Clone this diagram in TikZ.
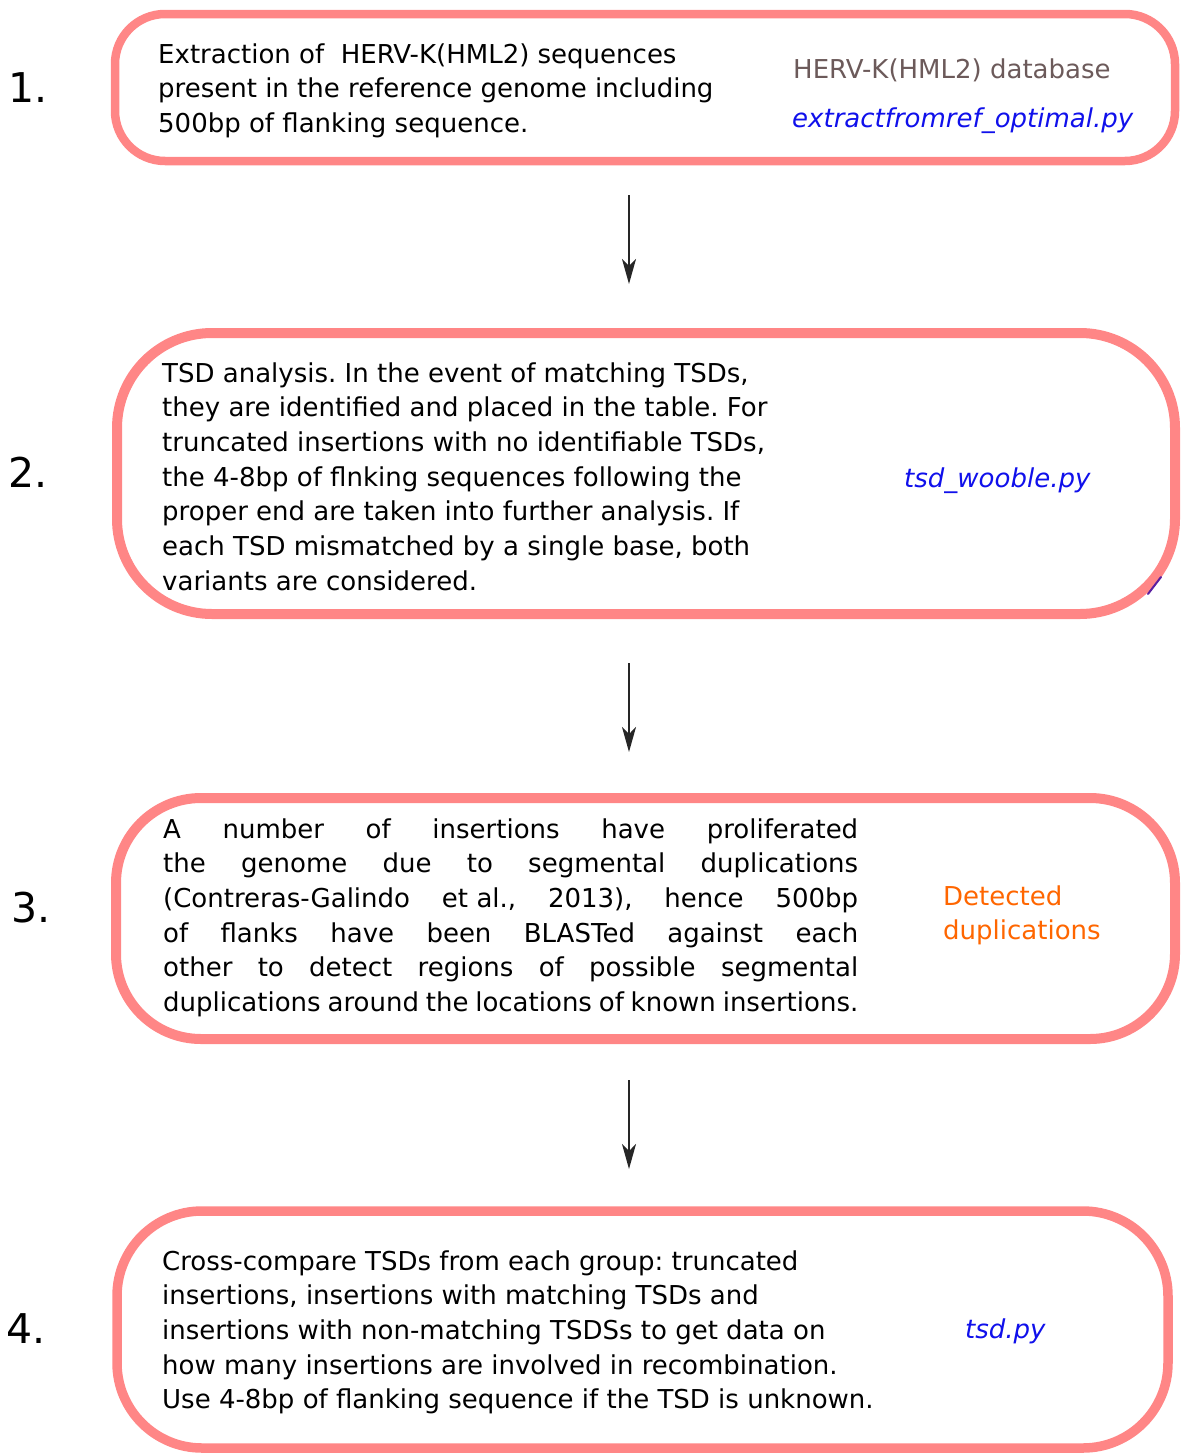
\documentclass[tikz,border=0pt]{standalone}
\usepackage{fontspec}
\setmainfont{DejaVu Sans}
\usetikzlibrary{arrows.meta}
\definecolor{boxpink}{RGB}{255,134,134}
\definecolor{dbgrey}{RGB}{108,90,90}
\definecolor{scriptblue}{RGB}{16,16,235}
\definecolor{dupeorange}{RGB}{255,102,0}
\definecolor{penpurple}{RGB}{90,30,160}
\newcommand{\bodysize}{\fontsize{26}{34.7}\selectfont}
\newlength{\dupwidth}
\setlength{\dupwidth}{695pt}
\newcommand{\jline}[1]{\makebox[\dupwidth][s]{#1}}
\frenchspacing
\begin{document}
\begin{tikzpicture}[x=1pt,y=-1pt,
  stage/.style={draw=boxpink, rectangle, fill=none, inner sep=0pt},
  body/.style={anchor=base west, inner sep=0pt, font=\bodysize},
  side/.style={anchor=base west, inner sep=0pt, font=\bodysize},
  script/.style={side, text=scriptblue, font=\bodysize\itshape},
  stepnum/.style={anchor=base west, inner sep=0pt, font=\fontsize{41}{41}\selectfont},
  flow/.style={draw=black!85, line width=1.6pt, -{Stealth[length=25pt,width=14pt,inset=7pt]}}]
\useasboundingbox (0,0) rectangle (1186,1454);

% stage frames
\node[stage, line width=8.5pt, rounded corners=50pt, minimum width=1060pt, minimum height=147pt] (box1) at (645,87.5) {};
\node[stage, line width=10pt, rounded corners=95pt, minimum width=1058pt, minimum height=281pt] (box2) at (646,473.5) {};
\node[stage, line width=10pt, rounded corners=85pt, minimum width=1059pt, minimum height=241pt] (box3) at (645.5,918.5) {};
\node[stage, line width=9.5pt, rounded corners=85pt, minimum width=1051pt, minimum height=237pt] (box4) at (642.5,1329.5) {};

% step numbers
\node[stepnum] (n1) at (8,102) {1.};
\node[stepnum] (n2) at (8,487) {2.};
\node[stepnum] (n3) at (11,922) {3.};
\node[stepnum] (n4) at (6,1343) {4.};

% stage 1
\node[body] (t1) at (158,63) {\parbox[t]{640pt}{Extraction of\ \ HERV-K(HML2) sequences\\present in the reference genome including\\500bp of flanking sequence.}};
\node[side, text=dbgrey] (db1) at (793,78) {HERV-K(HML2) database};
\node[script] (py1) at (792,127) {extractfromref\_optimal.py};

% stage 2
\node[body] (t2) at (162,382) {\parbox[t]{660pt}{TSD analysis. In the event of matching TSDs,\\they are identified and placed in the table. For\\truncated insertions with no identifiable TSDs,\\the 4-8bp of flnking sequences following the\\proper end are taken into further analysis. If\\each TSD mismatched by a single base, both\\variants are considered.}};
\node[script] (py2) at (904,487) {tsd\_wooble.py};
\draw[penpurple, line width=2pt, line cap=round] (1148,594) -- (1161,577);

% stage 3
\node[body] (t3) at (163,838) {\parbox[t]{\dupwidth}{%
\jline{A number of insertions have proliferated}\\
\jline{the genome due to segmental duplications}\\
\jline{(Contreras-Galindo et\hspace{0.32em}al., 2013), hence 500bp}\\
\jline{of flanks have been BLASTed against each}\\
\jline{other to detect regions of possible segmental}\\
\jline{duplications around the locations of known insertions.}}};
\node[side, text=dupeorange] (dup3) at (943,905) {\parbox[t]{200pt}{Detected\\duplications}};

% stage 4
\node[body] (t4) at (162,1270) {\parbox[t]{780pt}{Cross-compare TSDs from each group: truncated\\insertions, insertions with matching TSDs and\\insertions with non-matching TSDSs to get data on\\how many insertions are involved in recombination.\\Use 4-8bp of flanking sequence if the TSD is unknown.}};
\node[script] (py4) at (965,1338) {tsd.py};

% connectors between stages
\coordinate (a1s) at (629,195);
\coordinate (a1e) at (629,284);
\coordinate (a2s) at (629,663);
\coordinate (a2e) at (629,752);
\coordinate (a3s) at (629,1080);
\coordinate (a3e) at (629,1169);
\draw[flow] (a1s) -- (a1e);
\draw[flow] (a2s) -- (a2e);
\draw[flow] (a3s) -- (a3e);
\end{tikzpicture}
\end{document}
